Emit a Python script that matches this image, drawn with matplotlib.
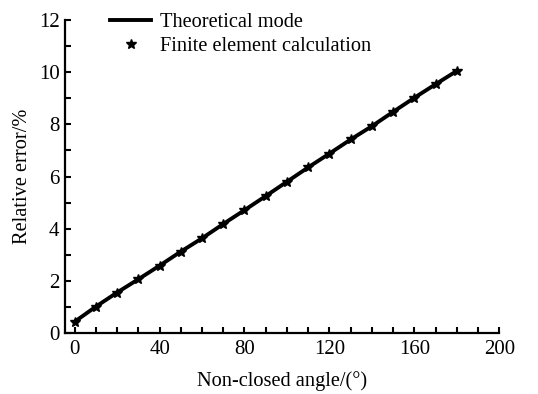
import matplotlib
matplotlib.use("Agg")
import matplotlib.pyplot as plt
from matplotlib.ticker import MultipleLocator

plt.rcParams['font.family'] = ['Liberation Serif', 'DejaVu Serif']

# angle (deg) and relative error (%)
angle = [0, 10, 20, 30, 40, 50, 60, 70, 80, 90, 100, 110, 120, 130, 140, 150, 160, 170, 180]
theory = [0.43, 1.01, 1.55, 2.06, 2.58, 3.12, 3.63, 4.18, 4.71, 5.25, 5.80, 6.35, 6.88, 7.42, 7.93, 8.48, 9.02, 9.54, 10.05]
fem = [0.43, 1.01, 1.55, 2.06, 2.58, 3.12, 3.63, 4.18, 4.71, 5.25, 5.80, 6.35, 6.88, 7.42, 7.93, 8.48, 9.02, 9.54, 10.05]

fig = plt.figure(figsize=(5.38, 3.94), dpi=100)
ax = fig.add_axes([0.121, 0.155, 0.807, 0.794])

ax.plot(angle, theory, color='black', lw=2.8, label='Theoretical mode', zorder=2)
ax.plot(angle, fem, ls='none', marker='*', ms=7.5, color='black', label='Finite element calculation', zorder=3)

ax.set_xlim(-4.5, 200)
ax.set_ylim(0, 12)
ax.xaxis.set_major_locator(MultipleLocator(40))
ax.xaxis.set_minor_locator(MultipleLocator(10))
ax.yaxis.set_major_locator(MultipleLocator(2))
ax.yaxis.set_minor_locator(MultipleLocator(1))
ax.tick_params(which='both', direction='in', length=4, width=1.5, labelsize=15)
ax.tick_params(axis='x', pad=5)
ax.tick_params(axis='y', pad=4)

for s in ['top', 'right']:
    ax.spines[s].set_visible(False)
for s in ['left', 'bottom']:
    ax.spines[s].set_linewidth(1.6)

ax.set_xlabel('Non-closed angle/(°)', fontsize=14.7, labelpad=9)
ax.set_ylabel('Relative error/%', fontsize=14.7, labelpad=5)

ax.legend(loc='upper left', bbox_to_anchor=(0.085, 1.05), frameon=False, fontsize=14.7,
          handlelength=2.0, handletextpad=0.45, labelspacing=0.25, borderaxespad=0)

fig.savefig('out.png', dpi=100)
